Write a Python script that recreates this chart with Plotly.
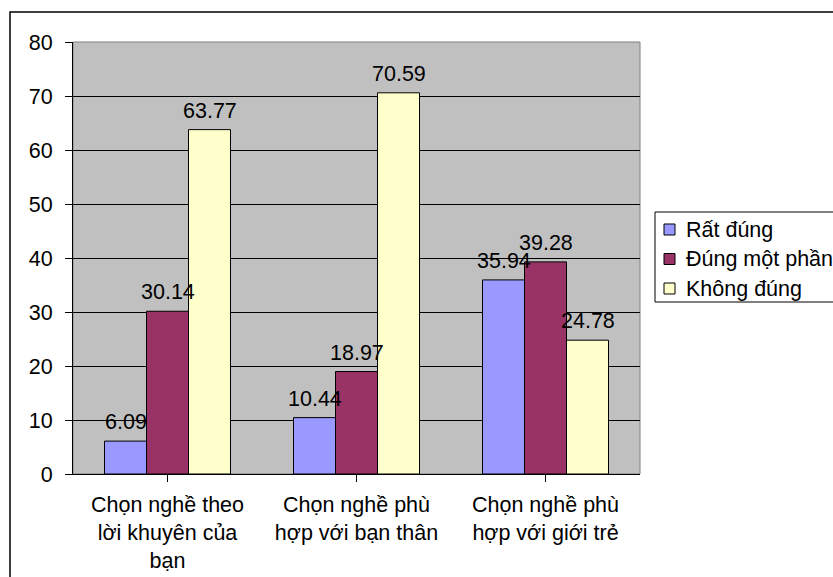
import plotly.graph_objects as go

categories = ["Chọn nghề theo<br>lời khuyên của<br>bạn",
              "Chọn nghề phù<br>hợp với bạn thân",
              "Chọn nghề phù<br>hợp với giới trẻ"]
series_names = ["Rất đúng", "Đúng một phần", "Không đúng"]
rat_dung = [6.09, 10.44, 35.94]
dung_mot_phan = [30.14, 18.97, 39.28]
khong_dung = [63.77, 70.59, 24.78]
y_ticks = [0, 10, 20, 30, 40, 50, 60, 70, 80]

series_values = [rat_dung, dung_mot_phan, khong_dung]
colors = ["#9999FF", "#993366", "#FFFFCC"]

FONT = "Liberation Sans, Arial, sans-serif"
FS = 21.5
W, H = 833, 577
L, R, T, B = 73, 640, 42, 474  # plot area edges in px
pw, ph = R - L, B - T
BARGAP = 1 / 3


def px_x(x):
    return (x - L) / pw


def px_y(y):
    return (B - y) / ph


fig = go.Figure()
for name, vals, col in zip(series_names, series_values, colors):
    fig.add_trace(go.Bar(
        x=list(range(len(categories))), y=vals, name=name,
        marker=dict(color=col, line=dict(color="black", width=1)),
    ))

# value labels above each bar
n = len(series_names)
bw = (1 - BARGAP) / n
annotations = []
for i, vals in enumerate(series_values):
    for c, v in enumerate(vals):
        annotations.append(dict(
            x=c + (i - (n - 1) / 2) * bw, y=v, xref="x", yref="y",
            text=f"{v:.2f}", showarrow=False, yanchor="bottom", yshift=5,
            font=dict(family=FONT, size=FS, color="black"),
        ))

shapes = [
    # outer chart border
    dict(type="rect", xref="paper", yref="paper",
         x0=px_x(10), x1=px_x(W + 10), y0=px_y(H + 10), y1=px_y(12),
         line=dict(color="black", width=1.5), layer="below"),
    # plot area frame
    dict(type="rect", xref="paper", yref="paper", x0=0, x1=1, y0=0, y1=1,
         line=dict(color="#808080", width=1), layer="below"),
    # legend box
    dict(type="rect", xref="paper", yref="paper",
         x0=px_x(655), x1=px_x(W + 20), y0=px_y(302), y1=px_y(212),
         line=dict(color="black", width=1), fillcolor="white", layer="below"),
]

# legend entries: colour swatch + series name
legend_rows = [229.5, 259, 288.5]
for name, col, ry in zip(series_names, colors, legend_rows):
    shapes.append(dict(
        type="rect", xref="paper", yref="paper",
        x0=px_x(664), x1=px_x(675), y0=px_y(ry + 5.5), y1=px_y(ry - 5.5),
        line=dict(color="black", width=1), fillcolor=col,
    ))
    annotations.append(dict(
        x=px_x(684), y=px_y(ry), xref="paper", yref="paper",
        text=name, showarrow=False, xanchor="left", yanchor="middle",
        font=dict(family=FONT, size=FS, color="black"),
    ))

fig.update_layout(
    width=W, height=H,
    margin=dict(l=L, r=W - R, t=T, b=H - B),
    paper_bgcolor="white", plot_bgcolor="#C0C0C0",
    barmode="group", bargap=BARGAP, bargroupgap=0,
    font=dict(family=FONT, size=FS, color="black"),
    showlegend=False,
    annotations=annotations, shapes=shapes,
)
fig.update_xaxes(
    tickmode="array", tickvals=list(range(len(categories))), ticktext=categories,
    range=[-0.5, len(categories) - 0.5], automargin=False,
    showline=True, linecolor="black", linewidth=1,
    ticks="outside", ticklen=7, tickcolor="black", tickson="boundaries",
    showgrid=False, zeroline=False,
    tickfont=dict(family=FONT, size=FS, color="black"),
    ticklabelstandoff=4,
)
fig.update_yaxes(
    range=[0, 80], tickvals=y_ticks, automargin=False,
    showline=True, linecolor="black", linewidth=1,
    ticks="outside", ticklen=7, tickcolor="black",
    showgrid=True, gridcolor="black", gridwidth=1, zeroline=False,
    tickfont=dict(family=FONT, size=FS, color="black"),
    ticklabelstandoff=8,
)
fig.write_html("out.html")
